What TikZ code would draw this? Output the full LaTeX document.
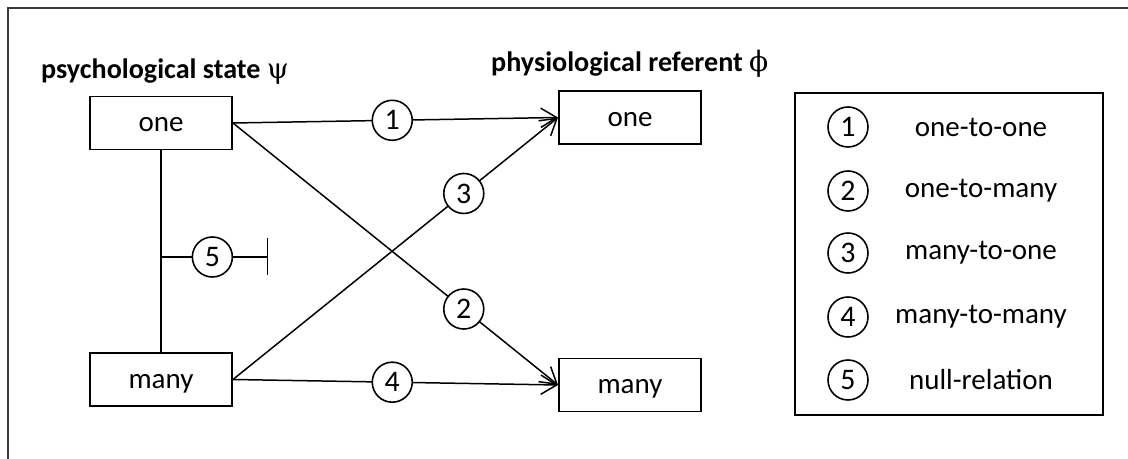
\documentclass[tikz,border=0pt]{standalone}
\usepackage{fontspec}
\setmainfont{Carlito}
\newfontfamily\greekfont{DejaVu Serif}
\usetikzlibrary{positioning,arrows.meta}
\definecolor{frameGray}{HTML}{3A3A3A}

\begin{document}
\begin{tikzpicture}[
    box/.style={
        rectangle, draw,
        minimum width=2.84cm, minimum height=1.06cm,
        text height=2.1ex, text depth=0pt,
        line width=1.1pt, font=\fontsize{16.5}{19}\selectfont
    },
    num/.style={
        circle, draw, fill=white,
        minimum size=0.8cm, inner sep=0pt,
        line width=0.9pt, font=\fontsize{17}{19}\selectfont
    },
    title/.style={anchor=base west, font=\fontsize{16}{19}\selectfont\bfseries},
    keytext/.style={font=\fontsize{16.5}{19}\selectfont},
    link/.style={line width=0.85pt},
    arrow/.style={-{Straight Barb[length=9pt,width=11pt]}, line width=0.85pt}
]
  \useasboundingbox (0,0) rectangle (22.56,9.18);

  % Open frame (top and left edges only)
  \draw[frameGray, line width=1.2pt] (0.16,0) -- (0.16,9.02) -- (22.56,9.02);

  % Column headings
  \node[title] (psyhead) at (0.7,7.6) {psychological state {\greekfont\mdseries ψ}};
  \node[title] (phyhead) at (9.7,7.74) {physiological referent {\greekfont\mdseries ϕ}};

  % Psychological side
  \node[box] (psyone) at (3.22,6.72) {one};
  \node[box] (psymany) at (3.22,1.59) {many};

  % Physiological side
  \node[box] (phyone) at (12.6,6.83) {one};
  \node[box] (phymany) at (12.6,1.48) {many};

  % Mappings
  \draw[arrow] (psyone.east) -- node[num, pos=0.49] {1} (phyone.west);
  \draw[arrow] (psyone.east) -- node[num, pos=0.71] {2} (phymany.west);
  \draw[arrow] (psymany.east) -- node[num, pos=0.71] {3} (phyone.west);
  \draw[arrow] (psymany.east) -- node[num, pos=0.49] {4} (phymany.west);

  % Null relation
  \coordinate (split) at (psyone.south |- 0,4.04);
  \coordinate (nullend) at (5.36,4.04);
  \draw[link] (psyone) -- (psymany);
  \draw[link, -{Bar[width=0.74cm]}] (split) -- node[num, pos=0.48] {5} (nullend);

  % Key
  \node[draw, line width=1.1pt, minimum width=6.16cm, minimum height=6.44cm] (keybox) at (18.98,4.1) {};
  \node[num] (key1) at (16.96,6.64) {1};
  \node[num] (key2) at (16.96,5.36) {2};
  \node[num] (key3) at (16.96,4.12) {3};
  \node[num] (key4) at (16.96,2.84) {4};
  \node[num] (key5) at (16.96,1.58) {5};
  \node[keytext] (label1) at (19.62,6.64) {one-to-one};
  \node[keytext] (label2) at (19.62,5.36) {one-to-many};
  \node[keytext] (label3) at (19.62,4.12) {many-to-one};
  \node[keytext] (label4) at (19.62,2.84) {many-to-many};
  \node[keytext] (label5) at (19.62,1.58) {null-relation};

\end{tikzpicture}
\end{document}
